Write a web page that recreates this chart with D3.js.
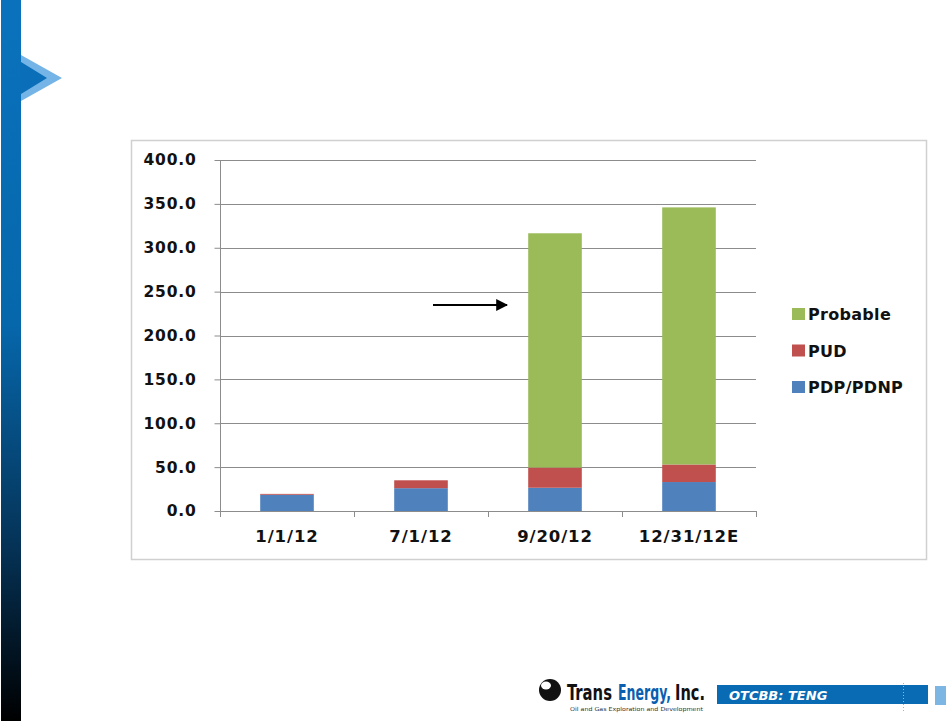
<!DOCTYPE html>
<html><head><meta charset="utf-8">
<script src="https://cdn.jsdelivr.net/npm/d3@7"></script>
<style>html,body{margin:0;padding:0;background:#fff;}svg{display:block;}</style>
</head><body>
<script>
const categories = ["1/1/12", "7/1/12", "9/20/12", "12/31/12E"];
const seriesNames = ["PDP/PDNP", "PUD", "Probable"];
const pdp = [18.5, 26, 26.5, 33];
const pud = [1, 9, 23, 20];
const probable = [0, 0, 267, 293];
const yTicks = [0, 50, 100, 150, 200, 250, 300, 350, 400];
const colors = {"PDP/PDNP": "#4F81BD", "PUD": "#C0504D", "Probable": "#9BBB59"};

const W = 946, H = 721;
const svg = d3.select("body").append("svg").attr("width", W).attr("height", H);
const defs = svg.append("defs");
const grad = defs.append("linearGradient").attr("id", "sideg").attr("x1", 0).attr("y1", 0).attr("x2", 0).attr("y2", 1);
grad.append("stop").attr("offset", "0").attr("stop-color", "#0a72bd");
grad.append("stop").attr("offset", "0.45").attr("stop-color", "#0667ab");
grad.append("stop").attr("offset", "0.75").attr("stop-color", "#053459");
grad.append("stop").attr("offset", "1").attr("stop-color", "#000000");

// left band and chevron
svg.append("rect").attr("x", 1).attr("y", 0).attr("width", 20).attr("height", H).attr("fill", "url(#sideg)");
svg.append("path").attr("d", "M21,55 L62,78 L21,101 Z").attr("fill", "#74b4e6");
svg.append("path").attr("d", "M21,62 L47,78 L21,94 Z").attr("fill", "#0a6fb8");

// chart frame
svg.append("rect").attr("x", 131.5).attr("y", 140.5).attr("width", 795).attr("height", 419)
  .attr("fill", "#fff").attr("stroke", "#d0d0d0").attr("stroke-width", 1.5);

const x = d3.scaleBand().domain(categories).range([220, 756]).paddingInner(0.6).paddingOuter(0.3);
const y = d3.scaleLinear().domain([0, 400]).range([511, 160]);

// gridlines
svg.append("g").selectAll("line").data(yTicks.filter(d => d > 0)).join("line")
  .attr("x1", 220).attr("x2", 756).attr("y1", d => Math.round(y(d)) + 0.5).attr("y2", d => Math.round(y(d)) + 0.5)
  .attr("stroke", "#8c8c8c").attr("stroke-width", 1);

// stacked bars
const table = categories.map((c, i) => ({cat: c, "PDP/PDNP": pdp[i], "PUD": pud[i], "Probable": probable[i]}));
const stack = d3.stack().keys(seriesNames)(table);
svg.append("g").selectAll("g").data(stack).join("g").attr("fill", s => colors[s.key])
  .selectAll("rect").data(s => s).join("rect")
  .attr("x", d => x(d.data.cat)).attr("width", x.bandwidth())
  .attr("y", d => y(d[1])).attr("height", d => y(d[0]) - y(d[1]));

// y axis
const yAxis = d3.axisLeft(y).tickValues(yTicks).tickFormat(d3.format(".1f")).tickSize(6).tickPadding(18);
const gy = svg.append("g").attr("transform", "translate(220.5,0)").call(yAxis);
gy.select(".domain").attr("stroke", "#8c8c8c").attr("d", "M0,160V511.5");
gy.selectAll(".tick line").attr("stroke", "#8c8c8c");
gy.selectAll("text").attr("font-family", "DejaVu Sans").attr("font-weight", "bold").attr("font-size", "15.5px")
  .attr("letter-spacing", "0.8px").attr("fill", "#111");

// x axis
const xAxis = d3.axisBottom(x).tickSize(0).tickPadding(19);
const gx = svg.append("g").attr("transform", "translate(0,511.5)").call(xAxis);
gx.select(".domain").attr("stroke", "#8c8c8c").attr("d", "M220,0H756");
gx.selectAll("text").attr("font-family", "DejaVu Sans").attr("font-weight", "bold").attr("font-size", "16.5px")
  .attr("letter-spacing", "0.9px").attr("fill", "#111");
const bounds = [220, ...categories.slice(1).map(c => x(c) - x.step() * x.paddingInner() / 2), 756];
svg.append("g").selectAll("line").data(bounds).join("line")
  .attr("x1", d => Math.round(d) + 0.5).attr("x2", d => Math.round(d) + 0.5).attr("y1", 511).attr("y2", 517)
  .attr("stroke", "#8c8c8c");

// legend
const legendOrder = ["Probable", "PUD", "PDP/PDNP"];
const lg = svg.append("g").selectAll("g").data(legendOrder).join("g")
  .attr("transform", (d, i) => `translate(792,${314 + i * 36.5})`);
lg.append("rect").attr("x", 0).attr("y", -6).attr("width", 13).attr("height", 12).attr("fill", d => colors[d]);
lg.append("text").attr("x", 16).attr("y", 6).text(d => d)
  .attr("font-family", "DejaVu Sans").attr("font-weight", "bold").attr("font-size", "16px")
  .attr("letter-spacing", "0.3px").attr("fill", "#111");

// arrow
defs.append("marker").attr("id", "ah").attr("viewBox", "0 0 10 10").attr("refX", 9).attr("refY", 5)
  .attr("markerWidth", 6).attr("markerHeight", 6).attr("orient", "auto")
  .append("path").attr("d", "M0,0 L10,5 L0,10 Z").attr("fill", "#000");
svg.append("line").attr("x1", 433).attr("y1", 305).attr("x2", 507).attr("y2", 305)
  .attr("stroke", "#000").attr("stroke-width", 2).attr("marker-end", "url(#ah)");

// footer logo
const f = svg.append("g");
f.append("circle").attr("cx", 550).attr("cy", 690).attr("r", 11).attr("fill", "#111");
f.append("ellipse").attr("cx", 546).attr("cy", 685.5).attr("rx", 5).attr("ry", 4).attr("fill", "#fff");
const logoFont = "DejaVu Sans Condensed, Liberation Sans Narrow, sans-serif";
const logoParts = [
  {text: "Trans", x: 567, w: 45, fill: "#111"},
  {text: "Energy,", x: 618, w: 53, fill: "#0a5fb0"},
  {text: "Inc.", x: 675, w: 30, fill: "#111"}
];
logoParts.forEach(p => {
  f.append("g").attr("transform", `translate(${p.x},700) scale(1,1.5)`)
    .append("text").attr("x", 0).attr("y", 0).attr("font-family", logoFont).attr("font-weight", "bold")
    .attr("font-size", "14px").attr("fill", p.fill).attr("textLength", p.w).attr("lengthAdjust", "spacingAndGlyphs")
    .text(p.text);
});
f.append("text").attr("x", 570).attr("y", 710.5).attr("font-family", "DejaVu Sans").attr("font-size", "5.5px")
  .attr("fill", "#333").attr("textLength", 133).attr("lengthAdjust", "spacingAndGlyphs")
  .text("Oil and Gas Exploration and Development");
f.append("rect").attr("x", 717).attr("y", 685).attr("width", 211).attr("height", 19).attr("fill", "#0a6bb5");
f.append("text").attr("x", 729).attr("y", 700).attr("font-family", "DejaVu Sans").attr("font-weight", "bold")
  .attr("font-style", "italic").attr("font-size", "13px").attr("fill", "#fff").text("OTCBB: TENG");
f.append("line").attr("x1", 903.5).attr("x2", 903.5).attr("y1", 683).attr("y2", 711)
  .attr("stroke", "#8fb8dc").attr("stroke-width", 1).attr("stroke-dasharray", "1,2");
f.append("rect").attr("x", 935).attr("y", 686).attr("width", 11).attr("height", 19).attr("fill", "#7db6e3");
</script>
</body></html>
